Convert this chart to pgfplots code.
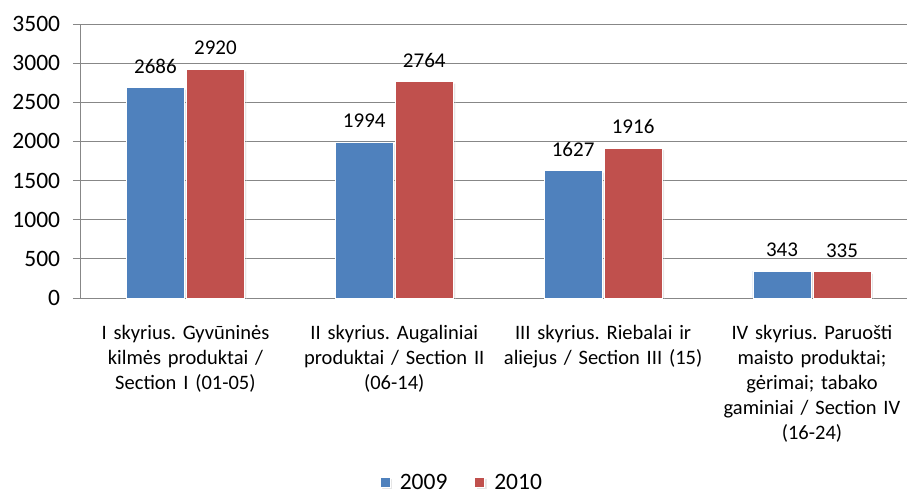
\documentclass[border=0pt]{standalone}
\usepackage{fontspec}
\setmainfont{Carlito}
\usepackage{pgfplots}
\pgfplotsset{compat=1.18}
\usetikzlibrary{shadows}
\definecolor{cblue}{HTML}{4F81BD}
\definecolor{cred}{HTML}{C0504D}
\definecolor{cgrid}{HTML}{878787}
\begin{document}
\frenchspacing
\fontsize{20bp}{25bp}\selectfont
\begin{tikzpicture}
\begin{axis}[
  scale only axis, width=826bp, height=274bp,
  xmin=-0.5, xmax=3.455, ymin=0, ymax=3500,
  ybar, bar width=58bp,
  ytick={0,500,...,3500},
  ymajorgrids, grid style={cgrid, line width=1bp},
  axis x line*=bottom, axis y line*=left,
  axis line style={cgrid, line width=1bp, -},
  tick style={cgrid, line width=1bp},
  tick align=outside,
  major tick length=8bp,
  xtick={0,1,2,3},
  xticklabels={
    {I skyrius. Gyvūninės\\kilmės produktai /\\Section I (01-05)},
    {II skyrius. Augaliniai\\produktai / Section II\\(06-14)},
    {III skyrius. Riebalai ir\\aliejus / Section III (15)},
    {IV skyrius. Paruošti\\maisto produktai;\\gėrimai; tabako\\gaminiai / Section IV\\(16-24)}},
  x tick style={draw=none},
  extra x ticks={-0.5,0.5,1.5,2.5},
  extra x tick labels={},
  extra x tick style={tick style={cgrid, line width=1bp}, major tick length=6bp, grid=none},
  xticklabel style={text width=210bp, align=center, anchor=north, yshift=-12bp, font=\fontsize{20.5bp}{25bp}\selectfont},
  yticklabel style={font=\fontsize{23.5bp}{28bp}\selectfont, xshift=-6bp},
  /pgf/number format/assume math mode=true,
  /pgf/number format/1000 sep={},
  nodes near coords,
  every node near coord/.append style={font=\fontsize{21bp}{25bp}\selectfont, text=black, inner sep=0pt, yshift=14bp, anchor=south},
  legend style={draw=none, legend columns=2, at={(0.46,-0.675)}, anchor=center,
    font=\fontsize{23.5bp}{28bp}\selectfont,
    nodes={inner xsep=0pt},
    /tikz/every odd column/.append style={column sep=9bp},
    /tikz/every even column/.append style={column sep=27bp}},
  legend image code/.code={\fill[#1] (0bp,-4bp) rectangle (10bp,6bp);},
]
\addplot[fill=cblue, draw=white, line width=0.8bp, drop shadow={shadow xshift=2bp, shadow yshift=-2bp, opacity=0.2}]
  coordinates {(0,2686) (1,1994) (2,1627) (3,343)};
\addplot[fill=cred, draw=white, line width=0.8bp, drop shadow={shadow xshift=2bp, shadow yshift=-2bp, opacity=0.2}]
  coordinates {(0,2920) (1,2764) (2,1916) (3,335)};
\legend{2009,2010}
\end{axis}
\pgfresetboundingbox
\path (-81bp,-197bp) rectangle (826bp,298bp);
\end{tikzpicture}
\end{document}
